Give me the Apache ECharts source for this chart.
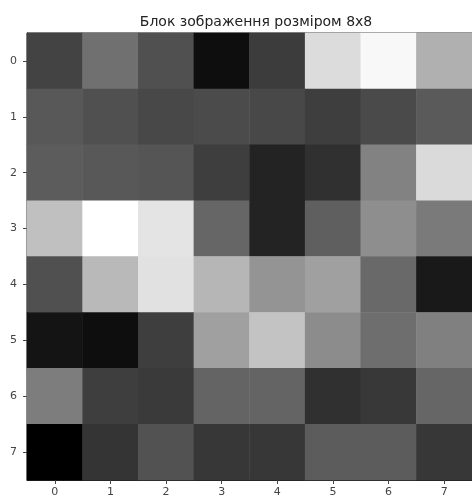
<!DOCTYPE html>
<html>
<head>
<meta charset="utf-8">
<script src="https://cdn.jsdelivr.net/npm/echarts@6/dist/echarts.min.js"></script>
<style>
html,body{margin:0;padding:0;background:#fff;}
#chart{width:472px;height:498px;}
</style>
</head>
<body>
<div id="chart"></div>
<script>
const titleText = 'Блок зображення розміром 8x8';
const xLabels = ['0','1','2','3','4','5','6','7'];
const yLabels = ['0','1','2','3','4','5','6','7'];
const row0 = [67, 112, 80, 14, 60, 220, 248, 176];
const row1 = [88, 80, 72, 75, 72, 62, 74, 90];
const row2 = [92, 88, 85, 62, 35, 48, 130, 218];
const row3 = [192, 255, 228, 102, 35, 95, 142, 122];
const row4 = [80, 185, 225, 182, 148, 160, 105, 25];
const row5 = [20, 14, 62, 160, 195, 140, 110, 128];
const row6 = [125, 62, 58, 100, 100, 48, 56, 102];
const row7 = [0, 52, 82, 55, 55, 92, 92, 55];
const rows = [row0, row1, row2, row3, row4, row5, row6, row7];

const data = [];
rows.forEach((r, yi) => r.forEach((v, xi) => data.push([xi, yi, v])));

const chart = echarts.init(document.getElementById('chart'), null, {renderer: 'canvas'});
const font = 'DejaVu Sans';
chart.setOption({
  animation: false,
  backgroundColor: '#fff',
  title: {
    text: titleText,
    left: 251,
    textAlign: 'center',
    top: 10,
    textStyle: {fontFamily: font, fontSize: 14, fontWeight: 'normal', color: '#222'}
  },
  grid: {left: 27, top: 33, width: 447, height: 447, show: true, borderColor: '#222', borderWidth: 1, backgroundColor: 'transparent'},
  xAxis: {
    type: 'category',
    data: xLabels,
    position: 'bottom',
    axisLine: {show: true, lineStyle: {color: '#222', width: 1}},
    axisTick: {show: true, alignWithLabel: true, length: 4, lineStyle: {color: '#444'}},
    axisLabel: {fontFamily: font, fontSize: 11, color: '#444', margin: 7},
    splitLine: {show: false},
    splitArea: {show: false}
  },
  yAxis: {
    type: 'category',
    data: yLabels,
    inverse: true,
    axisLine: {show: true, lineStyle: {color: '#222', width: 1}},
    axisTick: {show: true, alignWithLabel: true, length: 4, lineStyle: {color: '#444'}},
    axisLabel: {fontFamily: font, fontSize: 11, color: '#444', margin: 10},
    splitLine: {show: false},
    splitArea: {show: false}
  },
  visualMap: {
    show: false,
    type: 'continuous',
    min: 0,
    max: 255,
    dimension: 2,
    inRange: {color: ['#000000', '#ffffff']}
  },
  series: [{
    type: 'heatmap',
    data: data,
    itemStyle: {borderWidth: 0},
    emphasis: {disabled: true},
    label: {show: false}
  }]
});
</script>
</body>
</html>
